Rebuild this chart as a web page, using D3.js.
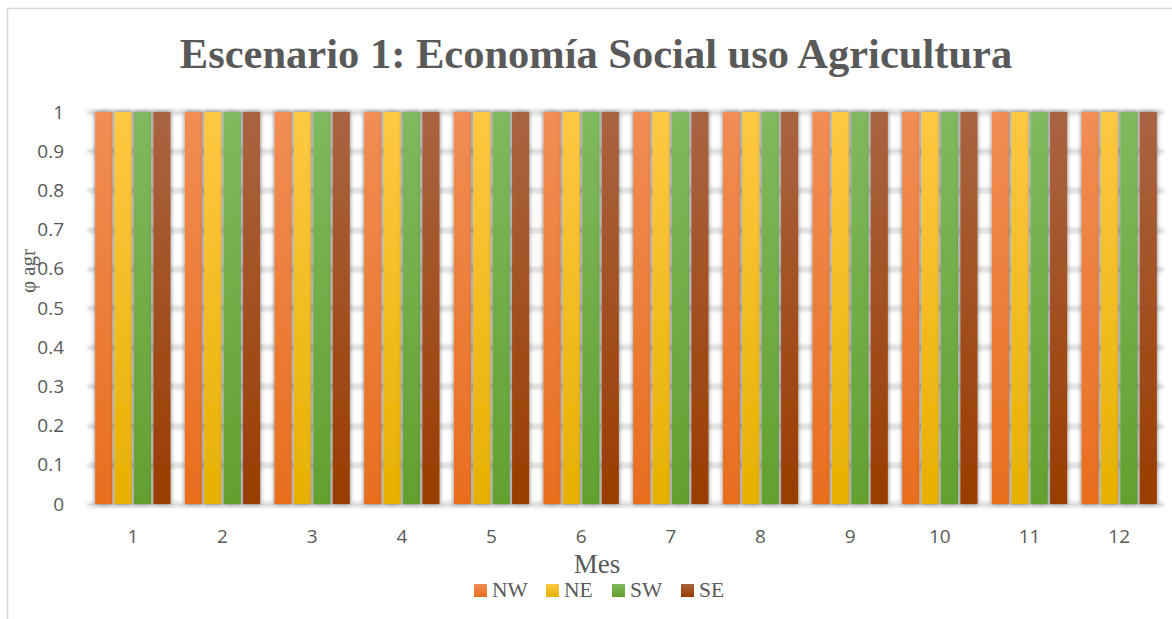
<!DOCTYPE html>
<html>
<head>
<meta charset="utf-8">
<script src="https://cdn.jsdelivr.net/npm/d3@7"></script>
<style>
  html, body { margin: 0; padding: 0; background: #fff; }
  svg { display: block; }
</style>
</head>
<body>
<svg id="chart" width="1172" height="619"></svg>
<script>
// Months and regional series (φ agr per month)
const months = ["1","2","3","4","5","6","7","8","9","10","11","12"];
const seriesNames = ["NW","NE","SW","SE"];
const valuesNW = [1,1,1,1,1,1,1,1,1,1,1,1];
const valuesNE = [1,1,1,1,1,1,1,1,1,1,1,1];
const valuesSW = [1,1,1,1,1,1,1,1,1,1,1,1];
const valuesSE = [1,1,1,1,1,1,1,1,1,1,1,1];
const yTicks = [0,0.1,0.2,0.3,0.4,0.5,0.6,0.7,0.8,0.9,1];
const yTickLabels = ["0","0.1","0.2","0.3","0.4","0.5","0.6","0.7","0.8","0.9","1"];

const seriesValues = { NW: valuesNW, NE: valuesNE, SW: valuesSW, SE: valuesSE };
const colorTop = { NW: "#F18D55", NE: "#FFC844", SW: "#80B95E", SE: "#AA6441" };
const colorBottom = { NW: "#E86E1E", NE: "#E6B000", SW: "#62A02F", SE: "#993C00" };

const svg = d3.select("#chart");
const textGrey = "#595959";

// Chart frame
svg.append("rect")
  .attr("x", 7.5).attr("y", 8.5)
  .attr("width", 1180).attr("height", 640)
  .attr("fill", "#fff").attr("stroke", "#d9d9d9").attr("stroke-width", 1.5);

const defs = svg.append("defs");
seriesNames.forEach(s => {
  const g = defs.append("linearGradient").attr("id", "grad-" + s)
    .attr("x1", 0).attr("y1", 0).attr("x2", 0).attr("y2", 1);
  g.append("stop").attr("offset", "0%").attr("stop-color", colorTop[s]);
  g.append("stop").attr("offset", "100%").attr("stop-color", colorBottom[s]);
});
const shadow = defs.append("filter").attr("id", "shadow")
  .attr("x", "-40%").attr("y", "-5%").attr("width", "180%").attr("height", "110%");
shadow.append("feDropShadow").attr("dx", 0).attr("dy", 0).attr("stdDeviation", 2.2)
  .attr("flood-color", "#000").attr("flood-opacity", 0.55);

const plot = { left: 88, right: 1164, top: 112, bottom: 504 };

const x0 = d3.scaleBand().domain(months)
  .range([plot.left, plot.right]).paddingInner(0.16).paddingOuter(0.08);
const x1 = d3.scaleBand().domain(seriesNames)
  .range([0, x0.bandwidth()]).paddingInner(0.12).paddingOuter(0);
const y = d3.scaleLinear().domain([0, 1]).range([plot.bottom, plot.top]);

// Title
svg.append("text")
  .attr("x", 596).attr("y", 68)
  .attr("text-anchor", "middle")
  .attr("font-family", "'Liberation Serif', 'Times New Roman', serif")
  .attr("font-weight", "bold").attr("font-size", 42.5)
  .attr("fill", textGrey)
  .text("Escenario 1: Economía Social uso Agricultura");

// Gridlines
const grid = svg.append("g").attr("filter", "url(#shadow)");
grid.selectAll("line").data(yTicks).join("line")
  .attr("x1", plot.left).attr("x2", plot.right - 1)
  .attr("y1", d => Math.round(y(d)) + 0.5).attr("y2", d => Math.round(y(d)) + 0.5)
  .attr("stroke", "#d9d9d9").attr("stroke-width", 1.5);

// Y axis labels
const yAxis = d3.axisLeft(y).tickValues(yTicks)
  .tickFormat((d, i) => yTickLabels[i]).tickSize(0).tickPadding(0);
const yg = svg.append("g").attr("transform", `translate(64,0)`).call(yAxis);
yg.select(".domain").remove();
yg.selectAll("text")
  .attr("font-family", "'Open Sans', 'Liberation Sans', sans-serif")
  .attr("font-size", 19).attr("fill", textGrey);

// Bars
const groups = svg.append("g").selectAll("g").data(months).join("g")
  .attr("transform", d => `translate(${x0(d)},0)`);
groups.selectAll("rect")
  .data((m, i) => seriesNames.map(s => ({ s, v: seriesValues[s][i] })))
  .join("rect")
  .attr("x", d => x1(d.s))
  .attr("y", d => y(d.v))
  .attr("width", x1.bandwidth())
  .attr("height", d => y(0) - y(d.v))
  .attr("fill", d => `url(#grad-${d.s})`)
  .attr("filter", "url(#shadow)");

// X axis labels
const xAxis = d3.axisBottom(x0).tickSize(0).tickPadding(0);
const xg = svg.append("g").attr("transform", `translate(0,${plot.bottom + 39})`).call(xAxis);
xg.select(".domain").remove();
xg.selectAll("text")
  .attr("dy", 0)
  .attr("font-family", "'Open Sans', 'Liberation Sans', sans-serif")
  .attr("font-size", 19).attr("fill", textGrey);

// Axis titles
svg.append("text")
  .attr("x", 597).attr("y", 573)
  .attr("text-anchor", "middle")
  .attr("font-family", "'Liberation Serif', 'Times New Roman', serif")
  .attr("font-size", 27).attr("fill", textGrey)
  .text("Mes");

svg.append("text")
  .attr("transform", "translate(35,271) rotate(-90)")
  .attr("text-anchor", "middle")
  .attr("font-family", "'Liberation Serif', 'Times New Roman', serif")
  .attr("font-size", 21).attr("fill", textGrey)
  .text("φ agr");

// Legend
const legendX = [474, 546, 612, 681];
const legend = svg.append("g").selectAll("g").data(seriesNames).join("g")
  .attr("transform", (d, i) => `translate(${legendX[i]},584)`);
legend.append("rect")
  .attr("width", 13).attr("height", 13)
  .attr("fill", d => `url(#grad-${d})`);
legend.append("text")
  .attr("x", 18).attr("y", 13)
  .attr("font-family", "'Liberation Serif', 'Times New Roman', serif")
  .attr("font-size", 21.5).attr("fill", textGrey)
  .text(d => d);
</script>
</body>
</html>
